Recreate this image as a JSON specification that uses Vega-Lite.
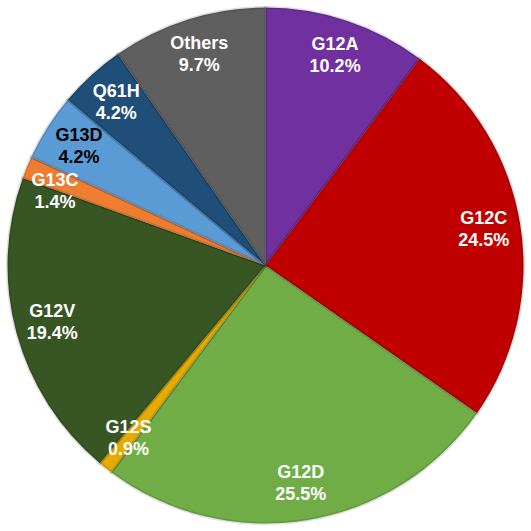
{
  "$schema": "https://vega.github.io/schema/vega-lite/v6.json",
  "width": 531,
  "height": 531,
  "autosize": {"type": "fit", "contains": "padding"},
  "padding": 0,
  "background": "white",
  "data": {
    "values": [
      {"name": "G12A", "pct": "10.2%", "value": 10.2, "idx": 1},
      {"name": "G12C", "pct": "24.5%", "value": 24.5, "idx": 2},
      {"name": "G12D", "pct": "25.5%", "value": 25.5, "idx": 3},
      {"name": "G12S", "pct": "0.9%", "value": 0.9, "idx": 4},
      {"name": "G12V", "pct": "19.4%", "value": 19.4, "idx": 5},
      {"name": "G13C", "pct": "1.4%", "value": 1.4, "idx": 6},
      {"name": "G13D", "pct": "4.2%", "value": 4.2, "idx": 7},
      {"name": "Q61H", "pct": "4.2%", "value": 4.2, "idx": 8},
      {"name": "Others", "pct": "9.7%", "value": 9.7, "idx": 9}
    ]
  },
  "encoding": {
    "theta": {"field": "value", "type": "quantitative", "stack": true},
    "order": {"field": "idx", "type": "quantitative"}
  },
  "layer": [
    {
      "mark": {"type": "arc", "outerRadius": 258, "stroke": "#000000", "strokeOpacity": 0.12, "strokeWidth": 3},
      "encoding": {
        "color": {
          "field": "name",
          "type": "nominal",
          "legend": null,
          "scale": {
            "domain": ["G12A", "G12C", "G12D", "G12S", "G12V", "G13C", "G13D", "Q61H", "Others"],
            "range": ["#7030A0", "#C00000", "#70AD47", "#E6AA00", "#375623", "#ED7D31", "#5B9BD5", "#1F4E79", "#5F5F5F"]
          }
        }
      }
    },
    {
      "mark": {"type": "text", "radius": 221, "dy": -11, "font": "Liberation Sans", "fontWeight": "bold", "fontSize": 18},
      "encoding": {
        "text": {"field": "name", "type": "nominal"},
        "opacity": {"condition": {"test": "datum.name === 'G13C'", "value": 0}, "value": 1},
        "color": {"condition": {"test": "datum.name === 'G13D'", "value": "#000000"}, "value": "#FFFFFF"}
      }
    },
    {
      "mark": {"type": "text", "radius": 221, "dy": 11, "font": "Liberation Sans", "fontWeight": "bold", "fontSize": 18},
      "encoding": {
        "text": {"field": "pct", "type": "nominal"},
        "opacity": {"condition": {"test": "datum.name === 'G13C'", "value": 0}, "value": 1},
        "color": {"condition": {"test": "datum.name === 'G13D'", "value": "#000000"}, "value": "#FFFFFF"}
      }
    },
    {
      "mark": {"type": "text", "radius": 221, "dy": -1, "dx": -6, "font": "Liberation Sans", "fontWeight": "bold", "fontSize": 18, "color": "#FFFFFF"},
      "encoding": {
        "text": {"field": "name", "type": "nominal"},
        "opacity": {"condition": {"test": "datum.name === 'G13C'", "value": 1}, "value": 0}
      }
    },
    {
      "mark": {"type": "text", "radius": 221, "dy": 21, "dx": -6, "font": "Liberation Sans", "fontWeight": "bold", "fontSize": 18, "color": "#FFFFFF"},
      "encoding": {
        "text": {"field": "pct", "type": "nominal"},
        "opacity": {"condition": {"test": "datum.name === 'G13C'", "value": 1}, "value": 0}
      }
    }
  ],
  "config": {"view": {"stroke": null}}
}
